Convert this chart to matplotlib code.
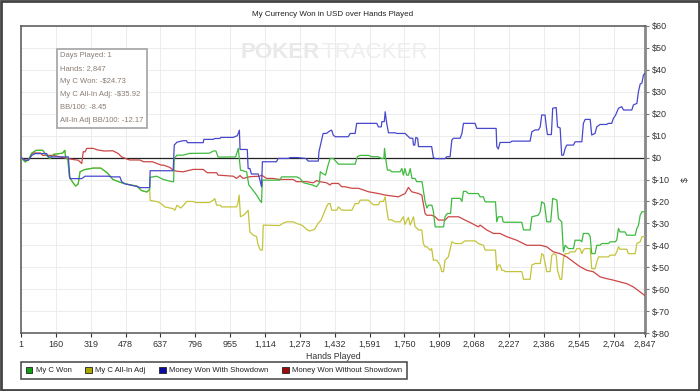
import matplotlib
matplotlib.use("Agg")
import matplotlib.pyplot as plt
from matplotlib.patches import Patch, Rectangle
from matplotlib.ticker import FuncFormatter

# ---- data (hands, $) ----
green_x = [1, 20, 35, 50, 70, 100, 118, 133, 150, 190, 201, 205, 215, 222, 235, 250, 262, 270, 290, 330, 365,
           395, 420, 460, 500, 530, 550, 575, 588, 590, 620, 650, 690, 697, 700, 712, 740, 770, 860, 878, 890,
           900, 980, 992, 1002, 1030, 1040, 1060, 1075, 1090, 1098, 1102, 1180, 1190, 1258, 1273, 1290, 1330,
           1349, 1362, 1366, 1380, 1390, 1400, 1411, 1425, 1449, 1525, 1535, 1548, 1586, 1600, 1630, 1645, 1656,
           1659, 1664, 1672, 1684, 1692, 1730, 1738, 1745, 1752, 1760, 1768, 1776, 1784, 1798, 1806, 1830, 1836,
           1844, 1852, 1860, 1875, 1882, 1890, 1928, 1935, 1945, 1960, 1966, 2004, 2012, 2019, 2030, 2042, 2087,
           2095, 2110, 2118, 2165, 2171, 2178, 2195, 2200, 2209, 2285, 2293, 2323, 2331, 2360, 2369, 2376, 2388,
           2399, 2417, 2426, 2445, 2452, 2467, 2475, 2483, 2498, 2521, 2528, 2551, 2559, 2566, 2589, 2597, 2604,
           2619, 2627, 2642, 2650, 2680, 2688, 2711, 2718, 2726, 2733, 2756, 2764, 2802, 2810, 2817, 2825, 2833,
           2840, 2847]
green_y = [0, -2, -1, 2, 3.3, 3.3, 1, -0.5, 1.5, 2, 3.3, 0, -1, -8.8, -11, -13, -12, -6.5, -5.5, -4.8, -4.8,
           -7, -10, -11.5, -12.5, -13, -15, -15.7, -14.5, -9, -8.5, -10, -11, -11, -0.4, 1.1, 1.1, 1.9, 2, 3, 3,
           0.2, 0.3, 4.2, -5.7, -6.5, -12.5, -15, -17, -19.5, -20.5, -10.3, -10.3, -8.8, -8.8, -9.5, -11.5, -12.5,
           -13.3, -11.5, -6.5, -7.5, -8, -4, -0.4, -0.4, -3, -3, 0.4, 1, 1, 0.4, 0.4, -0.4, -0.4,
           4.2, -0.4, -5.7, -5.7, -6.5, -6.5, -5, -8, -5, -8, -8, -5, -9.5, -9.5, -11, -11, -14.8,
           -20, -23, -21.7, -21.7, -24.7, -31.6, -31.6, -27, -25.5, -25.5, -18.6, -18.6, -20, -15.4, -15.4, -16.4, -16.4,
           -17.9, -17.9, -20.2, -20.2, -29.3, -27, -27, -29.3, -29.5, -29.5, -33, -33, -27, -26.3, -24.7, -20.2, -21,
           -29.3, -29.3, -18.6, -19.4, -27.8, -29.3, -43, -40, -41.5, -41.5, -37.7, -37.7, -38.4, -34.6, -34.6, -36, -43.8,
           -43.8, -40, -40, -39.2, -39.2, -38.4, -38.4, -37.7, -32.3, -33.9, -33.9, -35.4, -35.4, -32.3, -31, -26.3, -24.7,
           -24.7, -24.73]

yellow_x = [1, 20, 35, 50, 70, 100, 118, 133, 150, 190, 201, 205, 215, 222, 235, 250, 262, 270, 290, 330, 365,
            395, 420, 460, 500, 530, 550, 575, 588, 590, 627, 640, 657, 695, 703, 712, 730, 745, 756, 786, 800,
            860, 878, 885, 893, 910, 916, 984, 990, 996, 1002, 1015, 1025, 1037, 1045, 1060, 1075, 1083, 1093,
            1102, 1106, 1180, 1195, 1212, 1242, 1258, 1285, 1303, 1318, 1340, 1356, 1370, 1379, 1394, 1403, 1411,
            1418, 1441, 1449, 1464, 1510, 1525, 1540, 1548, 1586, 1593, 1608, 1631, 1638, 1654, 1662, 1669, 1677,
            1692, 1707, 1730, 1745, 1752, 1768, 1776, 1791, 1798, 1814, 1829, 1836, 1844, 1852, 1867, 1874, 1882,
            1897, 1912, 1920, 1928, 1935, 1950, 1966, 1981, 2011, 2019, 2026, 2072, 2087, 2110, 2118, 2165, 2171,
            2178, 2186, 2194, 2202, 2209, 2285, 2293, 2323, 2331, 2346, 2369, 2376, 2384, 2399, 2414, 2422, 2432,
            2442, 2448, 2460, 2467, 2475, 2483, 2498, 2505, 2528, 2536, 2551, 2559, 2566, 2574, 2597, 2604, 2619,
            2627, 2635, 2680, 2688, 2711, 2718, 2726, 2733, 2764, 2771, 2802, 2810, 2825, 2833, 2847]
yellow_y = [0, -2, -1, 2, 3.3, 3.3, 1, -0.5, 1.5, 2, 3.3, 0, -1, -8.8, -11, -13, -12, -6.5, -5.5, -4.8, -4.8,
            -7, -10, -11.5, -12.5, -13, -15, -15.7, -14.5, -19.5, -20.2, -21, -22.5, -23.3, -24, -21.8, -23, -21.5, -20, -20, -20.5,
            -20.5, -19.4, -18.7, -21.7, -21.7, -22.5, -22.5, -21, -17.1, -27, -26.3, -25.5, -24, -33.9, -35.4, -36, -40, -42.2,
            -42.2, -30.8, -31, -30, -29.3, -29.3, -30, -31, -32.7, -33.5, -32.7, -30, -28.5, -26.3, -22.5, -21, -21,
            -24, -24, -22.5, -24, -24, -21, -21, -19.4, -19.4, -20.2, -21.5, -21.5, -20, -20, -17.9, -23.8, -28.4,
            -28.4, -29.3, -29.3, -27, -30.5, -27.3, -30.8, -27, -31.4, -33, -33, -39.2, -40.7, -40.7, -42.2, -41.5, -46.8,
            -46.8, -49, -52, -52, -46.8, -45.3, -38.4, -39.2, -39.2, -38.4, -38, -38, -39.2, -40, -42.2, -42.2, -51.4,
            -49, -49, -51.4, -51.4, -52, -52, -55.5, -55.5, -49, -48.3, -48.3, -43.8, -44.5, -52, -52, -44.5, -43.8,
            -44.5, -51.4, -55.5, -55.5, -46, -43.8, -43.8, -43, -43, -41.5, -41.5, -43.8, -42.2, -41.5, -41.5, -50.7, -50.7,
            -47.6, -45.3, -45.3, -44.5, -44.5, -43, -40.7, -41.8, -41.8, -43.8, -43.8, -39.2, -38.4, -36.1, -35.92]

blue_x = [1, 20, 35, 50, 65, 118, 126, 217, 224, 278, 293, 400, 415, 452, 460, 475, 500, 530, 544, 588, 590,
          695, 700, 712, 740, 756, 760, 832, 835, 878, 885, 908, 912, 970, 976, 988, 997, 1000, 1033, 1037, 1045,
          1052, 1083, 1090, 1098, 1102, 1166, 1174, 1220, 1230, 1260, 1300, 1311, 1357, 1360, 1379, 1394, 1410,
          1418, 1425, 1434, 1494, 1502, 1525, 1532, 1624, 1631, 1644, 1647, 1658, 1662, 1669, 1677, 1707, 1715,
          1753, 1760, 1776, 1788, 1791, 1797, 1802, 1810, 1814, 1874, 1882, 1890, 1935, 1943, 1958, 1966, 1973,
          2004, 2012, 2019, 2072, 2080, 2168, 2171, 2178, 2186, 2232, 2240, 2323, 2331, 2346, 2361, 2369, 2376,
          2391, 2397, 2402, 2420, 2426, 2442, 2448, 2460, 2467, 2475, 2483, 2490, 2521, 2528, 2559, 2566, 2574,
          2597, 2604, 2619, 2627, 2642, 2672, 2680, 2695, 2703, 2713, 2726, 2741, 2749, 2787, 2794, 2810, 2817,
          2825, 2833, 2840, 2847]
blue_y = [0, -1.2, -1.2, 1, 1.8, 1.8, 0.3, 0.3, -9.6, -9.6, -8.5, -8.5, -8.8, -8.8, -11, -12, -12.5, -13.2, -13.7, -13.7, -6.0,
          -6.0, 5.7, 7, 7.7, 7.7, 6.8, 6.8, 8.3, 8.3, 8.7, 8.7, 9.2, 9.2, 9.5, 10, 12.5, 3.7, 3.7, -5, -5,
          -7.5, -7.5, -10, -13.3, -1.9, -1.9, -0.4, -0.4, 0, 0, -0.4, -1.6, -1.6, 2.7, 11, 11, 12.2,
          12.5, 10.3, 9.5, 9.5, 11, 11, 15.6, 15.6, 14, 14, 16.4, 16.4, 20.9, 15.6, 11.3, 11.3, 11,
          11, 10.3, 8.8, 8.8, 5.7, 5.7, 9.2, 8.8, 5, 5, 0, -0.5, -0.5, 0.4, 0.4, 8, 8.8,
          8.8, 11, 15.6, 15.6, 13.3, 13.3, 5, 3.9, 6.9, 6.9, 7.5, 7.5, 11.8, 12.6, 12.6, 14, 19.4,
          19.4, 14, 10.5, 10.5, 22.5, 22.8, 14, 13.5, 1.1, 1.1, 4.2, 5.7, 5.7, 7.2, 7.2, 15.6, 17.4,
          17.4, 10.3, 11, 14, 15.1, 15.1, 15.6, 15.6, 17.9, 19.4, 22.5, 23.2, 21.7, 21.7, 24, 24.7, 30,
          33.5, 34, 37.7, 38.4]

red_x = [1, 20, 35, 50, 60, 90, 100, 150, 180, 217, 240, 262, 278, 285, 293, 301, 330, 350, 380, 420, 445,
         460, 480, 497, 543, 560, 600, 642, 650, 680, 696, 710, 740, 786, 832, 850, 893, 900, 969, 984, 1000,
         1014, 1046, 1090, 1098, 1121, 1150, 1182, 1242, 1258, 1303, 1334, 1349, 1364, 1395, 1410, 1418, 1449,
         1464, 1479, 1510, 1540, 1586, 1631, 1662, 1692, 1722, 1753, 1768, 1783, 1814, 1829, 1844, 1852, 1874,
         1890, 1905, 1935, 1950, 1997, 2026, 2057, 2087, 2095, 2125, 2156, 2186, 2217, 2262, 2308, 2323, 2370,
         2399, 2429, 2460, 2490, 2521, 2551, 2582, 2612, 2642, 2672, 2703, 2733, 2764, 2794, 2825, 2847]
red_y = [0, -1.2, -1.2, 1.8, 2.1, 2.1, 1, 1, 0.3, -0.5, -0.9, -1.2, -2.7, 2.7, 2.6, 4.2, 4.2, 3.5, 3, 3.1, 1.8,
         0.3, -0.5, -1.1, -1.1, -1.9, -1.9, -3.5, -3.4, -4.5, -5.8, -6.2, -6.5, -5.4, -5.4, -6.9, -6.9, -8, -8.5, -9.5, -8.2,
         -9.5, -8.7, -8.5, -8, -9.5, -9.5, -10, -10, -11, -11, -11.5, -10.5, -11, -11.5, -12.5, -11.8, -11.8,
         -13.3, -13.3, -14, -14, -15.6, -16.4, -17.1, -17.5, -17.9, -16.4, -13.6, -15.6, -16.4, -17.1, -25.5, -26.3, -26.3,
         -27, -28.5, -28.5, -27, -27, -28.5, -30, -31.6, -30.8, -33, -34.6, -34.6, -36.1, -37.7, -40, -40, -40,
         -40.7, -43, -43.8, -45.3, -47.6, -49.8, -51.4, -52.1, -54.4, -55.2, -55.9, -56.7, -57.5, -59, -61.3, -63]

x_ticks = [1, 160, 319, 478, 637, 796, 955, 1114, 1273, 1432, 1591, 1750, 1909, 2068, 2227, 2386, 2545, 2704, 2847]
y_ticks = list(range(-80, 61, 10))

info_lines = ["Days Played: 1", "Hands: 2,847", "My C Won: -$24.73",
              "My C All-In Adj: -$35.92", "BB/100: -8.45", "All-In Adj BB/100: -12.17"]

plt.rcParams["font.family"] = ["Liberation Sans", "DejaVu Sans"]

fig = plt.figure(figsize=(7, 3.91), dpi=100)
ax = fig.add_axes([21 / 700, 1 - 333 / 391, 624 / 700, 307 / 391])

# watermark
fig.text(0.343, 0.867, "POKER", fontsize=16, fontweight="bold", color="#e9e9e9", va="center", ha="left")
fig.text(0.46, 0.867, "TRACKER", fontsize=16, color="#eeeeee", va="center", ha="left")

ax.set_facecolor("none")
ax.plot(yellow_x, yellow_y, color="#c4c43c", lw=0.9, zorder=3)
ax.plot(green_x, green_y, color="#3fba3f", lw=0.9, zorder=4)
ax.plot(red_x, red_y, color="#cc4646", lw=0.9, zorder=3)
ax.plot(blue_x, blue_y, color="#4848cc", lw=0.9, zorder=5)
ax.axhline(0, color="#222222", lw=0.9, zorder=2)

ax.set_xlim(1, 2847)
ax.set_ylim(-80, 60)
ax.set_xticks(x_ticks)
ax.set_yticks(y_ticks)
ax.xaxis.set_major_formatter(FuncFormatter(lambda v, p: f"{int(v):,}"))
ax.yaxis.set_major_formatter(FuncFormatter(lambda v, p: f"${int(v)}"))
ax.yaxis.tick_right()
ax.yaxis.set_label_position("right")
ax.grid(True, color="#ececec", lw=0.7, zorder=0)
ax.tick_params(labelsize=6.5, colors="#333333", length=3, width=0.8, pad=2)
ax.tick_params(axis="y", colors="#777777", labelcolor="#333333")

for s in ("left", "top", "bottom"):
    ax.spines[s].set_color("#555555")
    ax.spines[s].set_linewidth(1.1)
ax.spines["right"].set_color("#888888")
ax.spines["right"].set_linewidth(2)

ax.set_xlabel("Hands Played", fontsize=6.3, color="#333333", labelpad=2)
ax.set_ylabel("$", fontsize=6.3, color="#333333", labelpad=8)

fig.text(333 / 700, 1 - 15 / 391, "My Currency Won in USD over Hands Played",
         fontsize=5.8, color="#222222", ha="center", va="center")

# info box
fig.text(60 / 700, 1 - 52 / 391, "\n".join(info_lines), fontsize=5.5, color="#8a7d74",
         ha="left", va="top", linespacing=2.22,
         bbox=dict(boxstyle="square,pad=0.45", fc="white", ec="#aaaaaa", lw=1.3))

handles = [Patch(fc="#12a012", ec="#222222", lw=0.6), Patch(fc="#a8a800", ec="#222222", lw=0.6),
           Patch(fc="#0a0aa0", ec="#222222", lw=0.6), Patch(fc="#a00a0a", ec="#222222", lw=0.6)]
labels = ["My C Won", "My C All-In Adj", "Money Won With Showdown", "Money Won Without Showdown"]
leg = fig.legend(handles, labels, loc="lower left", bbox_to_anchor=(21 / 700, 1 - 379 / 391), ncol=4,
                 fontsize=5.6, handlelength=0.85, handleheight=0.85, handletextpad=0.45, columnspacing=1.75,
                 borderaxespad=0, borderpad=0.6, fancybox=False, framealpha=1)
leg.get_frame().set_edgecolor("#444444")
leg.get_frame().set_linewidth(1.1)
for t in leg.get_texts():
    t.set_color("#222222")

fig.patches.append(Rectangle((0.001, 0.002), 0.997, 0.996, transform=fig.transFigure,
                             fill=False, ec="#444444", lw=2))

fig.savefig("out.png", dpi=100)
